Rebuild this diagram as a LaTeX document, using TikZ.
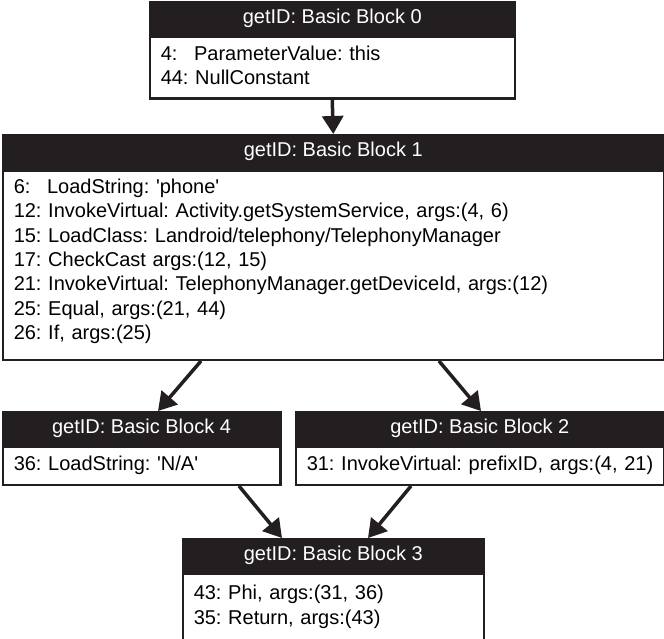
\documentclass[tikz,border=0pt]{standalone}
\usepackage{fontspec}
\setmainfont{Liberation Sans}
\usetikzlibrary{arrows.meta}
\definecolor{ink}{RGB}{35,31,32}
\frenchspacing
\newcommand\fs{\fontsize{20}{24.4}\selectfont\frenchspacing}
\newcommand\padnum[1]{\makebox[1.668em][l]{#1}}
\newcommand\sq{\textquotesingle}
\tikzset{
  hd/.style={fill=ink, draw=ink, line width=2.5pt, text=white, inner sep=0pt,
    anchor=north west, font=\fs},
  bd/.style={draw=ink, fill=white, line width=2.5pt, anchor=north west,
    inner xsep=11pt, inner ysep=0pt, align=left, font=\fs},
  arr/.style={draw=ink, line width=3.5pt, -{Triangle[length=18pt,width=21pt]}},
}
\begin{document}
\begin{tikzpicture}[x=1pt,y=1pt]
\useasboundingbox (0,0) rectangle (664,-639);
% Block 0
\node[hd, minimum width=365pt, minimum height=32pt] (h0) at (148.5,-1) {getID: Basic Block 0};
\node[bd, minimum width=365pt, text width=343pt, minimum height=62pt] (b0) at (h0.south west)
  {\padnum{4:}ParameterValue: this\\44: NullConstant\rule[-5pt]{0pt}{1pt}};
% Block 1
\node[hd, minimum width=661pt, minimum height=33pt] (h1) at (1.5,-134) {getID: Basic Block 1};
\node[bd, minimum width=661pt, text width=639pt, minimum height=189pt] (b1) at (h1.south west)
  {\padnum{6:}LoadString: \sq phone\sq\\
   12: InvokeVirtual: Activity.getSystemService, args:(4, 6)\\
   15: LoadClass: Landroid/telephony/TelephonyManager\\
   17: CheckCast args:(12, 15)\\
   21: InvokeVirtual: TelephonyManager.getDeviceId, args:(12)\\
   25: Equal, args:(21, 44)\\
   26: If, args:(25)\rule[-12pt]{0pt}{1pt}};
% Block 4
\node[hd, minimum width=277.5pt, minimum height=32pt] (h4) at (1.5,-411) {getID: Basic Block 4};
\node[bd, minimum width=277.5pt, text width=255.5pt, minimum height=38pt] (b4) at (h4.south west)
  {\mbox{36: LoadString: \sq N/A\sq}};
% Block 2
\node[hd, minimum width=368pt, minimum height=32pt] (h2) at (294.5,-411) {getID: Basic Block 2};
\node[bd, minimum width=368pt, text width=346pt, minimum height=38pt] (b2) at (h2.south west)
  {\mbox{31: InvokeVirtual: prefixID, args:(4, 21)}};
% Block 3
\node[hd, minimum width=301pt, minimum height=32pt] (h3) at (181.5,-538) {getID: Basic Block 3};
\node[bd, minimum width=301pt, text width=279pt, minimum height=66pt] (b3) at (h3.south west)
  {43: Phi, args:(31, 36)\\35: Return, args:(43)};
% Arrows
\draw[arr] (b0.south) -- (h1.north);
\draw[arr] ([xshift=199.5pt]b1.south west) -- ([xshift=156.5pt]h4.north west);
\draw[arr] ([xshift=437.5pt]b1.south west) -- ([xshift=186.5pt]h2.north west);
\draw[arr] ([xshift=237.5pt]b4.south west) -- ([xshift=100.5pt]h3.north west);
\draw[arr] ([xshift=116.5pt]b2.south west) -- ([xshift=186.5pt]h3.north west);
\end{tikzpicture}
\end{document}
